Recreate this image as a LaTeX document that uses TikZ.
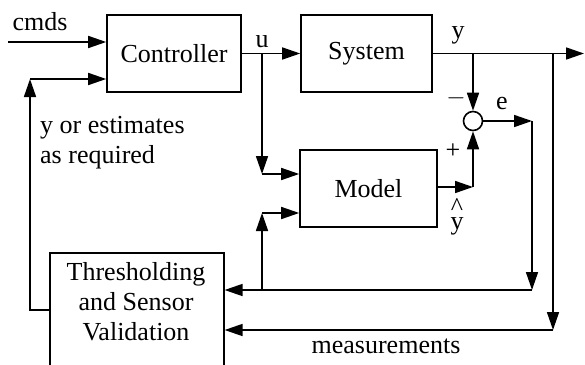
\documentclass[tikz,border=0pt]{standalone}
\usepackage{fontspec}
\setmainfont{Liberation Serif}
\usetikzlibrary{arrows.meta}

\tikzset{
  block/.style={draw,line width=1.6pt,inner sep=0pt},
  sig/.style={->,line width=1.6pt},
  lbl/.style={inner sep=0pt}
}

\begin{document}
\begin{tikzpicture}[x=1pt,y=-1pt,line join=miter,>={Triangle[length=18pt,width=12pt]},
    font=\fontsize{26}{30}\selectfont]
  \clip (0,0) rectangle (585,364);

  % blocks
  \node[block,minimum width=134pt,minimum height=77pt] (ctrl) at (174,53.5) {Controller};
  \node[block,minimum width=131pt,minimum height=77pt] (sys) at (366.5,53.5) {System};
  \node[block,minimum width=137pt,minimum height=77pt] (model) at (368.5,188.5) {Model};
  \node[block,circle,minimum size=19pt] (sum) at (473,121) {};
  \node[block,anchor=north west,minimum width=174pt,minimum height=140pt] (thr) at (49,252) {};
  \node[lbl,align=center] (thrtext) at (136,302) {Thresholding\\and Sensor\\Validation};

  % corners and branch points
  \coordinate (cmdsin) at (8,42);
  \coordinate (fbtop) at (30,79);
  \coordinate (fbbot) at (30,310);
  \coordinate (ubr) at (262,53.5);
  \coordinate (uturn) at (262,174);
  \coordinate (mturn) at (262,213);
  \coordinate (lowbr) at (262,290);
  \coordinate (ybr) at (473,53.5);
  \coordinate (yhatturn) at (473,187);
  \coordinate (eturn) at (532,121);
  \coordinate (ecorner) at (532,290);
  \coordinate (mbr) at (553,53.5);
  \coordinate (mcorner) at (553,330);
  \coordinate (yout) at (584,53.5);

  % signal lines
  \draw[sig] (cmdsin) -- (cmdsin -| ctrl.west);
  \draw[sig] (fbbot -| thr.west) -- (fbbot) -- (fbtop);
  \draw[sig] (fbtop) -- (fbtop -| ctrl.west);
  \draw[sig] (ctrl.east) -- (sys.west);
  \draw[sig] (ubr) -- (uturn);
  \draw[sig] (uturn) -- (uturn -| model.west);
  \draw[sig] (lowbr) -- (mturn);
  \draw[sig] (mturn) -- (mturn -| model.west);
  \draw[sig] (sys.east) -- (yout);
  \draw[sig] (ybr) -- (sum.north);
  \draw[sig] (yhatturn -| model.east) -- (yhatturn);
  \draw[sig] (yhatturn) -- (sum.south);
  \draw[sig] (sum.east) -- (eturn);
  \draw[sig] (eturn) -- (ecorner);
  \draw[sig] (ecorner) -- (ecorner -| thr.east);
  \draw[sig] (mbr) -- (mcorner);
  \draw[sig] (mcorner) -- (mcorner -| thr.east);

  % labels
  \node[lbl] (cmds) at (40,22) {cmds};
  \node[lbl] (ulbl) at (262,42) {u};
  \node[lbl] (ylbl) at (458,35) {y};
  \node[lbl] (minus) at (456,98) {$-$};
  \node[lbl] (plus) at (453,151) {+};
  \node[lbl] (elbl) at (502,103) {e};
  \node[lbl] (yhat) at (457,217) {\shortstack{\textasciicircum\\[-1pt]y}};
  \node[lbl] (meas) at (386,346) {measurements};
  \node[lbl,align=left,anchor=west] (est) at (40,143) {y or estimates\\as required};
\end{tikzpicture}
\end{document}
